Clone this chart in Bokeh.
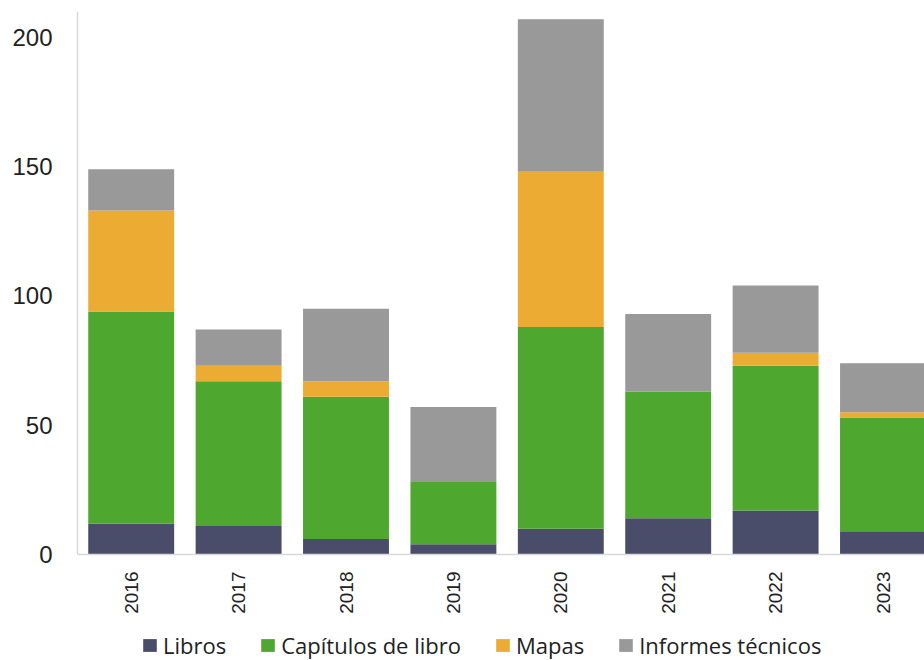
import math
from bokeh.plotting import figure
from bokeh.models import ColumnDataSource, Range1d, FixedTicker, Legend, LegendItem
from bokeh.embed import file_html
from bokeh.resources import INLINE

years = ["2016", "2017", "2018", "2019", "2020", "2021", "2022", "2023"]
libros = [12, 11, 6, 4, 10, 14, 17, 9]
capitulos = [82, 56, 55, 24, 78, 49, 56, 44]
mapas = [39, 6, 6, 0, 60, 0, 5, 2]
informes = [16, 14, 28, 29, 59, 30, 26, 19]

series = ["Libros", "Capítulos de libro", "Mapas", "Informes técnicos"]
colors = ["#4a4d6a", "#4ea72e", "#ecab33", "#999999"]

xs = list(range(len(years)))
source = ColumnDataSource(dict(x=xs, Libros=libros, **{"Capítulos de libro": capitulos},
                               Mapas=mapas, **{"Informes técnicos": informes}))

scale = 543 / 210.0
p = figure(width=924, height=660, output_backend="svg", toolbar_location=None,
           x_range=Range1d(-0.5, -0.5 + 847 / 107.4), y_range=Range1d(-106 / scale, 210),
           min_border_left=77, min_border_right=0, min_border_top=11, min_border_bottom=0)

renderers = p.vbar_stack(series, x="x", width=0.8, color=colors, source=source, line_color=None)

p.xgrid.visible = False
p.ygrid.visible = False
p.outline_line_color = None
p.background_fill_color = "white"
p.border_fill_color = "white"

# y axis
p.yaxis.ticker = FixedTicker(ticks=[0, 50, 100, 150, 200])
p.yaxis.bounds = (0, 210)
p.yaxis.axis_line_color = "#d9d9d9"
p.yaxis.axis_line_width = 1.5
p.yaxis.major_tick_line_color = None
p.yaxis.minor_tick_line_color = None
p.yaxis.major_label_text_font = "Liberation Sans"
p.yaxis.major_label_text_font_size = "24px"
p.yaxis.major_label_text_color = "#222222"
p.yaxis.major_label_standoff = 19

# x axis (drawn at y = 0)
p.xaxis.fixed_location = 0
p.xaxis.ticker = FixedTicker(ticks=xs)
p.xaxis.major_label_overrides = {i: y for i, y in zip(xs, years)}
p.xaxis.major_label_orientation = math.pi / 2
p.xaxis.axis_line_color = "#d9d9d9"
p.xaxis.axis_line_width = 1.5
p.xaxis.major_tick_line_color = None
p.xaxis.minor_tick_line_color = None
p.xaxis.major_label_text_font = "Liberation Sans"
p.xaxis.major_label_text_font_size = "19px"
p.xaxis.major_label_text_color = "#222222"
p.xaxis.major_label_standoff = 11

legend = Legend(items=[LegendItem(label=s, renderers=[r]) for s, r in zip(series, renderers)],
                orientation="horizontal", location=(64, 0),
                label_text_font="Open Sans", label_text_font_size="22px",
                label_text_color="#222222",
                glyph_width=17, glyph_height=16, label_standoff=5, spacing=33,
                padding=0, margin=0, border_line_color=None, background_fill_alpha=0)
p.add_layout(legend, "center")

open("out.html", "w").write(file_html(p, INLINE))
